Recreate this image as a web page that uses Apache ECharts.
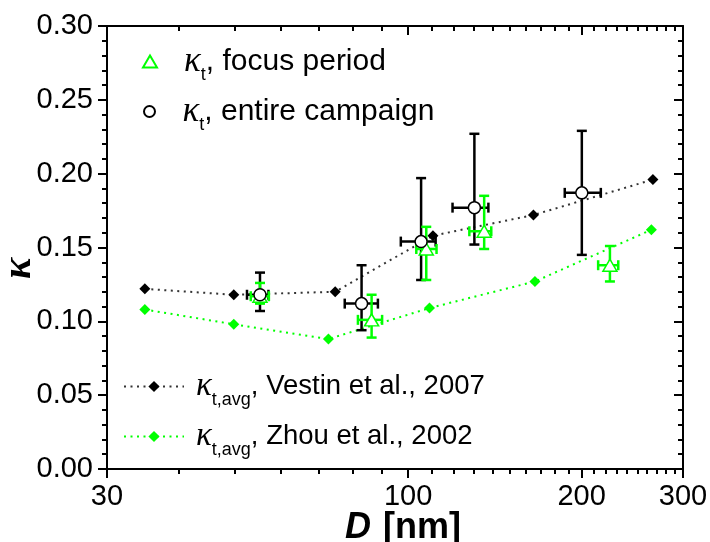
<!DOCTYPE html>
<html>
<head>
<meta charset="utf-8">
<script src="https://cdn.jsdelivr.net/npm/echarts@6/dist/echarts.min.js"></script>
<style>
  html, body { margin: 0; padding: 0; background: #fff; }
  #chart { width: 710px; height: 542px; }
</style>
</head>
<body>
<div id="chart"></div>
<script>
// Particle diameter D [nm] and hygroscopicity parameter kappa

// Literature averages (dotted lines with diamonds)
const vestinD = [34.9, 49.8, 74.7, 110.4, 165.0, 266.0];
const vestinK = [0.122, 0.118, 0.120, 0.158, 0.172, 0.196];
const zhouD = [34.9, 49.8, 72.7, 108.9, 166.0, 264.4];
const zhouK = [0.108, 0.098, 0.088, 0.109, 0.127, 0.162];

// kappa_t, entire campaign (open circles with x/y error bars)
const campD = [55.3, 83.0, 105.3, 130.3, 200.2];
const campDLo = [52.5, 77.6, 97.1, 119.4, 187.0];
const campDHi = [57.2, 88.6, 111.6, 137.8, 216.0];
const campK = [0.118, 0.112, 0.154, 0.177, 0.187];
const campKLo = [0.107, 0.094, 0.128, 0.152, 0.145];
const campKHi = [0.133, 0.138, 0.197, 0.227, 0.229];

// kappa_t, focus period (open triangles with x/y error bars)
const focD = [55.3, 86.4, 107.5, 135.5, 224.0];
const focDLo = [53.3, 81.8, 103.3, 127.7, 213.7];
const focDHi = [57.3, 90.1, 112.0, 139.4, 231.6];
const focK = [0.117, 0.101, 0.149, 0.161, 0.138];
const focKLo = [0.112, 0.089, 0.128, 0.149, 0.127];
const focKHi = [0.126, 0.118, 0.164, 0.185, 0.151];

// Axis ticks
const xMajorTicks = [30, 100, 200, 300];
const xMinorTicks = [40, 50, 60, 70, 80, 90,
  110, 120, 130, 140, 150, 160, 170, 180, 190,
  210, 220, 230, 240, 250, 260, 270, 280, 290];
const yMin = 0, yMax = 0.30, yStep = 0.05;

// Legend labels
const nameFocus = 'κt, focus period';
const nameCamp = 'κt, entire campaign';
const nameVestin = 'κt,avg, Vestin et al., 2007';
const nameZhou = 'κt,avg, Zhou et al., 2002';
const legendRich = {};
legendRich[nameFocus] = '{k|κ}{s|t}{m|, focus period}';
legendRich[nameCamp] = '{k|κ}{s|t}{m|, entire campaign}';
legendRich[nameVestin] = '{k2|κ}{s|t,avg}{m2|, Vestin et al., 2007}';
legendRich[nameZhou] = '{k2|κ}{s|t,avg}{m2|, Zhou et al., 2002}';

const GREEN = '#00ff00';
const BLACK = '#000000';
const SANS = 'Liberation Sans';
const lg = Math.log10;

const xMin = lg(30), xMax = lg(300);

const pairs = (xs, ys) => xs.map((x, i) => [lg(x), ys[i]]);
const errRows = (d, k, dlo, dhi, klo, khi) =>
  d.map((x, i) => [lg(x), k[i], lg(dlo[i]), lg(dhi[i]), klo[i], khi[i]]);

function errorBars(color) {
  return function (params, api) {
    const x = api.value(0), y = api.value(1);
    const c = api.coord([x, y]);
    const xl = api.coord([api.value(2), y])[0];
    const xh = api.coord([api.value(3), y])[0];
    const yl = api.coord([x, api.value(4)])[1];
    const yh = api.coord([x, api.value(5)])[1];
    const cap = 5;
    const style = { stroke: color, lineWidth: 2.5, fill: null };
    const seg = (x1, y1, x2, y2) => ({ type: 'line', shape: { x1, y1, x2, y2 }, style });
    return {
      type: 'group',
      children: [
        seg(c[0], yl, c[0], yh),
        seg(c[0] - cap, yl, c[0] + cap, yl),
        seg(c[0] - cap, yh, c[0] + cap, yh),
        seg(xl, c[1], xh, c[1]),
        seg(xl, c[1] - cap, xl, c[1] + cap),
        seg(xh, c[1] - cap, xh, c[1] + cap)
      ]
    };
  };
}

const axisLineStyle = { color: BLACK, width: 2 };

function xAxisDef(position, ticks, len, inside, withLabels, withLine) {
  return {
    type: 'value',
    position,
    min: xMin,
    max: xMax,
    axisLine: { show: withLine, lineStyle: axisLineStyle },
    axisTick: {
      show: true,
      inside,
      length: len,
      lineStyle: axisLineStyle,
      customValues: ticks.map(lg)
    },
    axisLabel: withLabels ? {
      show: true,
      customValues: xMajorTicks.map(lg),
      formatter: v => String(Math.round(Math.pow(10, v))),
      fontSize: 29,
      fontFamily: SANS,
      color: BLACK,
      margin: 13
    } : { show: false },
    splitLine: { show: false }
  };
}

const xAxes = [
  xAxisDef('bottom', xMajorTicks, 9, false, true, true),
  xAxisDef('bottom', xMinorTicks, 5, false, false, false),
  xAxisDef('top', xMajorTicks, 9, true, false, true),
  xAxisDef('top', xMinorTicks, 5, true, false, false)
];
xAxes[0].name = '{d|D}{b|[nm]}';
xAxes[0].nameLocation = 'middle';
xAxes[0].nameGap = 41;
xAxes[0].nameMoveOverlap = false;
xAxes[0].nameTextStyle = {
  padding: [0, 0, 0, 16],
  rich: {
    d: { fontFamily: SANS, fontWeight: 'bold', fontStyle: 'italic', fontSize: 36, lineHeight: 36, color: BLACK },
    b: { fontFamily: SANS, fontWeight: 'bold', fontSize: 36, lineHeight: 36, color: BLACK, padding: [0, 0, 0, 12] }
  }
};

function yAxisDef(position, inside, withLabels) {
  return {
    type: 'value',
    position,
    min: yMin,
    max: yMax,
    interval: yStep,
    axisLine: { show: true, lineStyle: axisLineStyle },
    axisTick: { show: true, inside, length: 9, lineStyle: axisLineStyle },
    minorTick: { show: true, splitNumber: 5, length: 5, lineStyle: axisLineStyle },
    axisLabel: withLabels ? {
      show: true,
      formatter: v => v.toFixed(2),
      fontSize: 29,
      fontFamily: SANS,
      color: BLACK,
      margin: 14
    } : { show: false },
    splitLine: { show: false },
    minorSplitLine: { show: false }
  };
}

const yAxes = [yAxisDef('left', false, true), yAxisDef('right', true, false)];
yAxes[0].name = '{k|κ}';
yAxes[0].nameLocation = 'middle';
yAxes[0].nameRotate = 90;
yAxes[0].nameGap = 69;
yAxes[0].nameMoveOverlap = false;
yAxes[0].nameTextStyle = {
  padding: [0, 42, 0, 0],
  rich: {
    k: { fontFamily: 'Liberation Serif', fontWeight: 'bold', fontStyle: 'italic', fontSize: 40, lineHeight: 36, color: BLACK }
  }
};

const richStyles = {
  k: { fontFamily: 'Liberation Serif', fontStyle: 'italic', fontSize: 35, lineHeight: 46, color: BLACK, padding: [0, 0, 0, 22] },
  k2: { fontFamily: 'Liberation Serif', fontStyle: 'italic', fontSize: 33, lineHeight: 46, color: BLACK, padding: [0, 0, 0, 7] },
  s: { fontFamily: SANS, fontSize: 18, lineHeight: 16, verticalAlign: 'bottom', color: BLACK },
  m: { fontFamily: SANS, fontSize: 30, lineHeight: 46, color: BLACK },
  m2: { fontFamily: SANS, fontSize: 27.5, lineHeight: 46, color: BLACK }
};

function legendDef(name, icon, left, top, w, h) {
  return {
    show: true,
    left,
    top,
    padding: 0,
    itemWidth: w,
    itemHeight: h,
    selectedMode: false,
    data: [icon ? { name, icon } : { name }],
    formatter: n => legendRich[n],
    textStyle: { rich: richStyles }
  };
}

const option = {
  animation: false,
  backgroundColor: '#ffffff',
  grid: {
    left: 107, right: 27, top: 26, bottom: 73,
    containLabel: false,
    outerBoundsMode: 'none'
  },
  legend: [
    legendDef(nameFocus, 'triangle', 142, 44, 14, 12),
    legendDef(nameCamp, 'circle', 143, 94, 12, 11),
    legendDef(nameVestin, null, 123, 370, 60, 14),
    legendDef(nameZhou, null, 123, 420, 60, 14)
  ],
  xAxis: xAxes,
  yAxis: yAxes,
  series: [
    {
      name: nameVestin,
      type: 'line',
      data: pairs(vestinD, vestinK),
      symbol: 'diamond',
      symbolSize: 11,
      itemStyle: { color: BLACK },
      lineStyle: { color: '#333', width: 2, type: [2, 4.5] },
      z: 2
    },
    {
      name: nameZhou,
      type: 'line',
      data: pairs(zhouD, zhouK),
      symbol: 'diamond',
      symbolSize: 11,
      itemStyle: { color: GREEN },
      lineStyle: { color: GREEN, width: 2, type: [2, 4.5] },
      z: 2
    },
    {
      type: 'custom',
      renderItem: errorBars(BLACK),
      data: errRows(campD, campK, campDLo, campDHi, campKLo, campKHi),
      encode: { x: 0, y: 1 },
      z: 3
    },
    {
      type: 'custom',
      renderItem: errorBars(GREEN),
      data: errRows(focD, focK, focDLo, focDHi, focKLo, focKHi),
      encode: { x: 0, y: 1 },
      z: 4
    },
    {
      name: nameFocus,
      type: 'scatter',
      data: pairs(focD, focK),
      symbol: 'triangle',
      symbolSize: [14, 12],
      itemStyle: { color: '#ffffff', borderColor: GREEN, borderWidth: 1.5, opacity: 1 },
      z: 5
    },
    {
      name: nameCamp,
      type: 'scatter',
      data: pairs(campD, campK),
      symbol: 'circle',
      symbolSize: 12,
      itemStyle: { color: '#ffffff', borderColor: BLACK, borderWidth: 1.5, opacity: 1 },
      z: 6
    }
  ]
};

const chart = echarts.init(document.getElementById('chart'), null, { renderer: 'canvas' });
chart.setOption(option);
</script>
</body>
</html>
